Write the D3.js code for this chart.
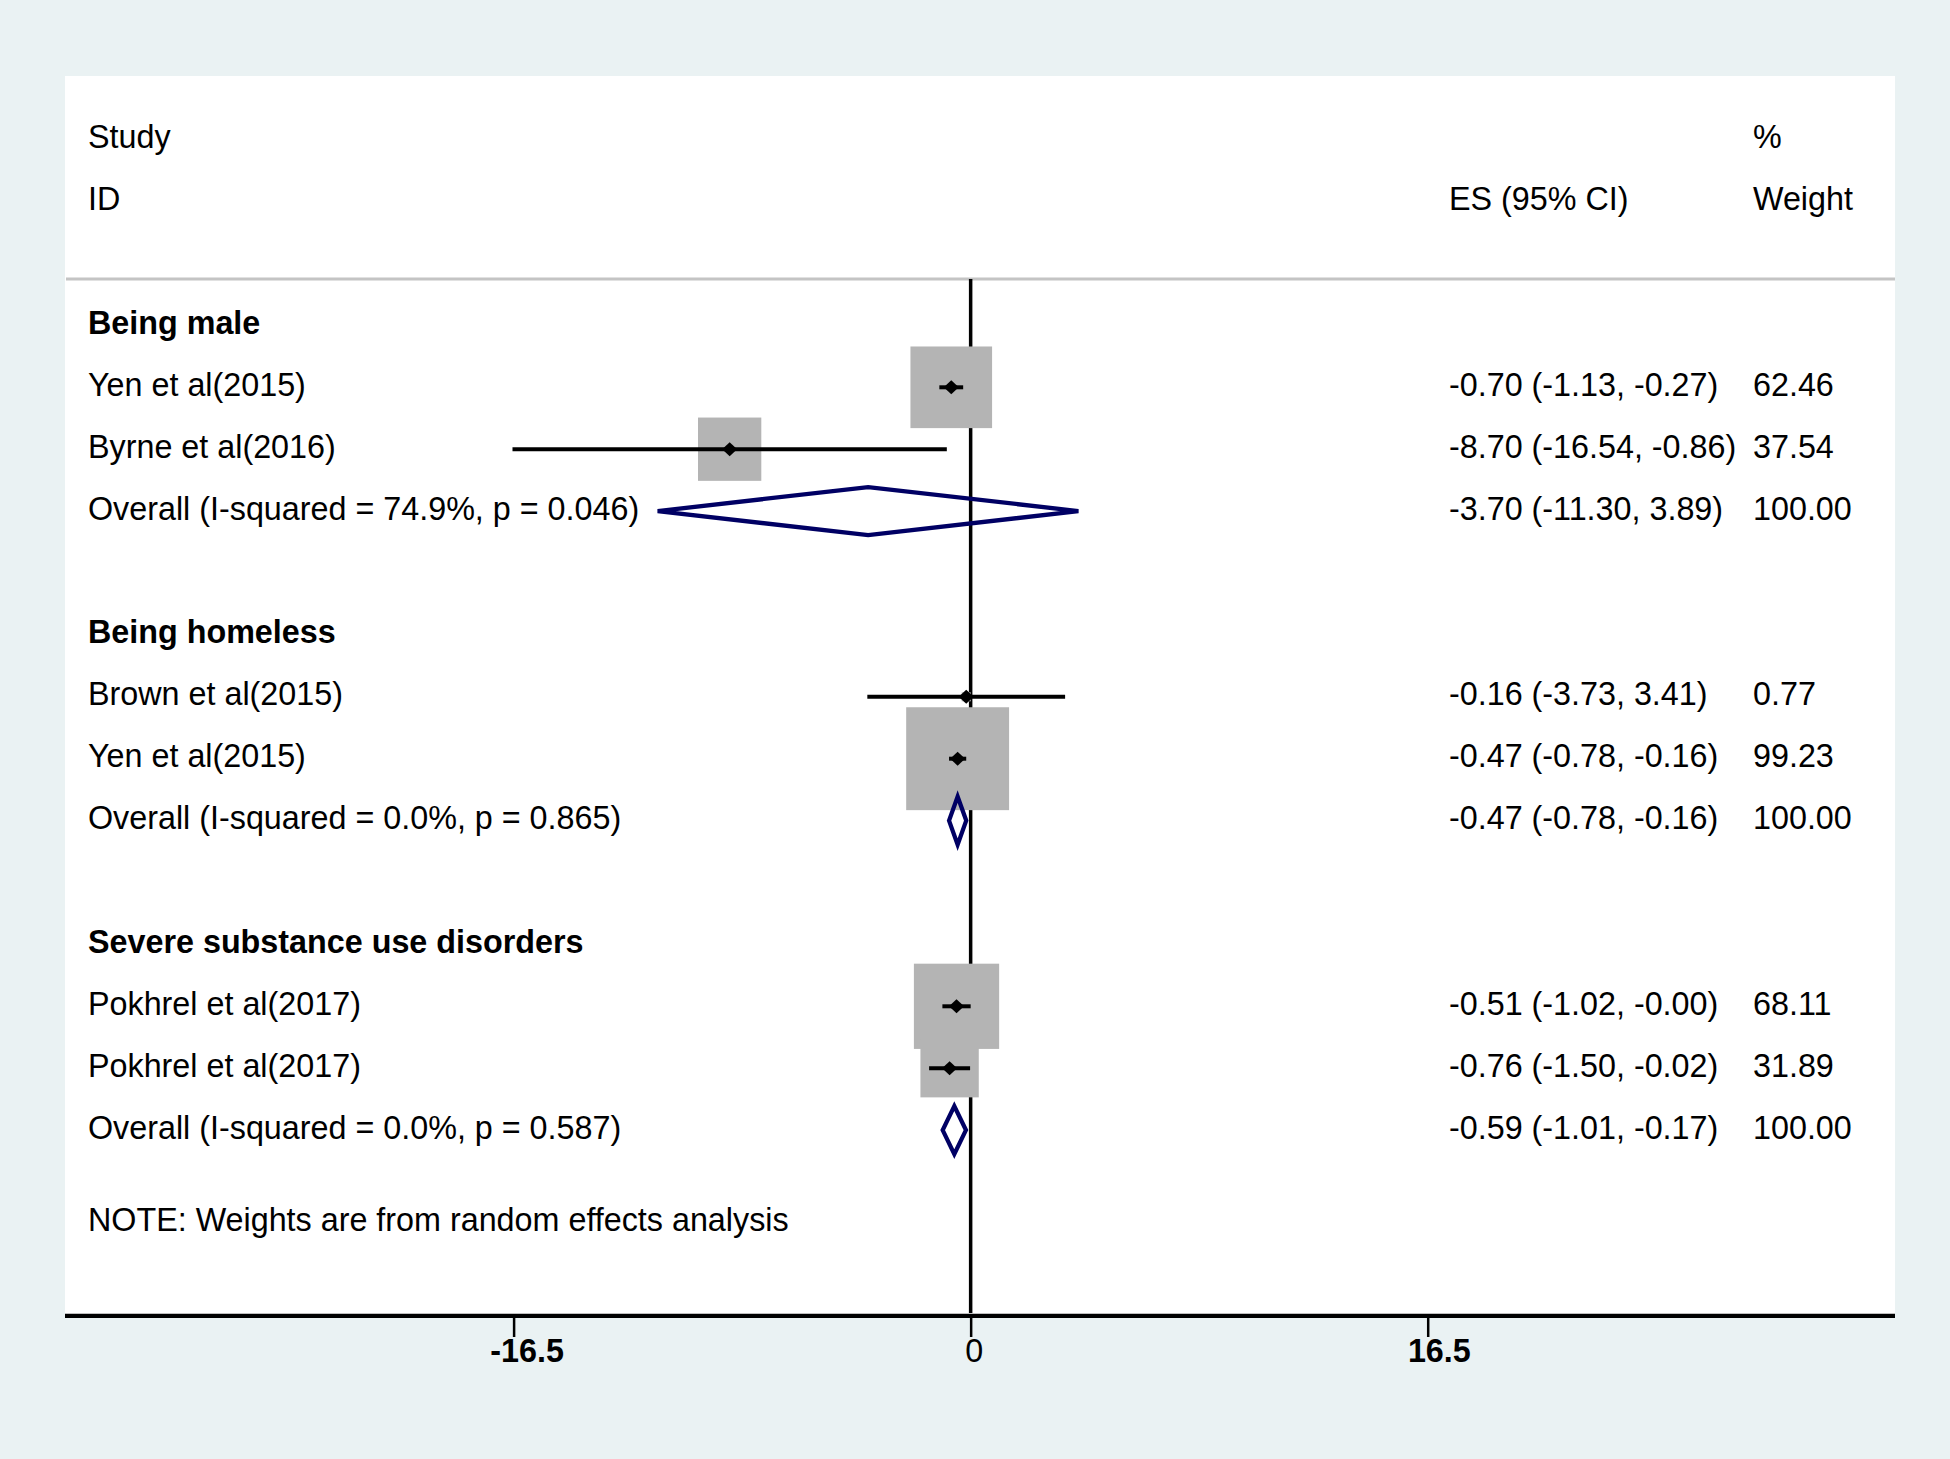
<!DOCTYPE html>
<html>
<head>
<meta charset="utf-8">
<script src="https://cdn.jsdelivr.net/npm/d3@7"></script>
<style>
  html, body { margin: 0; padding: 0; background: #EAF2F3; }
  svg { display: block; }
  text { font-family: "Liberation Sans", Arial, Helvetica, sans-serif; font-size: 32.3px; fill: #000; }
</style>
</head>
<body>
<svg id="chart" width="1950" height="1459"></svg>
<script>
// ---------------- data ----------------
const headerLeft = [
  { row: -3, text: "Study" },
  { row: -2, text: "ID" }
];
const headerES = [{ row: -2, text: "ES (95% CI)" }];
const headerWeight = [
  { row: -3, text: "%" },
  { row: -2, text: "Weight" }
];

const groupLabels = ["Being male", "Being homeless", "Severe substance use disorders"];
const groupRows = [0, 5, 10];

const studyLabels = ["Yen et al(2015)", "Byrne et al(2016)", "Brown et al(2015)", "Yen et al(2015)", "Pokhrel et al(2017)", "Pokhrel et al(2017)"];
const studyRows = [1, 2, 6, 7, 11, 12];
const studyES = [-0.70, -8.70, -0.16, -0.47, -0.51, -0.76];
const studyLo = [-1.13, -16.54, -3.73, -0.78, -1.02, -1.50];
const studyHi = [-0.27, -0.86, 3.41, -0.16, -0.00, -0.02];
const studyESText = ["-0.70 (-1.13, -0.27)", "-8.70 (-16.54, -0.86)", "-0.16 (-3.73, 3.41)", "-0.47 (-0.78, -0.16)", "-0.51 (-1.02, -0.00)", "-0.76 (-1.50, -0.02)"];
const studyWeight = [62.46, 37.54, 0.77, 99.23, 68.11, 31.89];
const studyWeightText = ["62.46", "37.54", "0.77", "99.23", "68.11", "31.89"];

const overallLabels = ["Overall (I-squared = 74.9%, p = 0.046)", "Overall (I-squared = 0.0%, p = 0.865)", "Overall (I-squared = 0.0%, p = 0.587)"];
const overallRows = [3, 8, 13];
const overallES = [-3.70, -0.47, -0.59];
const overallLo = [-11.30, -0.78, -1.01];
const overallHi = [3.89, -0.16, -0.17];
const overallESText = ["-3.70 (-11.30, 3.89)", "-0.47 (-0.78, -0.16)", "-0.59 (-1.01, -0.17)"];
const overallWeightText = ["100.00", "100.00", "100.00"];

const noteText = "NOTE: Weights are from random effects analysis";
const noteRow = 14.5;

const tickValues = [-16.5, 0, 16.5];
const tickLabels = ["-16.5", "0", "16.5"];
const tickBold = [true, false, true];

// ---------------- layout ----------------
const W = 1950, H = 1459;
const panel = { x0: 65, x1: 1895, y0: 76, y1: 1315 };
const colLeft = 88, colES = 1449, colWeight = 1753;

const svg = d3.select("#chart");

const x = d3.scaleLinear().domain([-16.5, 16.5]).range([513.6, 1427.7]);
const y = d3.scaleLinear().domain([0, 13]).range([325.4, 1130.1]);
const boxSide = d3.scaleSqrt().domain([0, 100]).range([0, 103.3]);
const textDy = 8.5;

// background
svg.append("rect").attr("x", 0).attr("y", 0).attr("width", W).attr("height", H).attr("fill", "#EAF2F3");
svg.append("rect").attr("x", panel.x0).attr("y", panel.y0)
  .attr("width", panel.x1 - panel.x0).attr("height", panel.y1 - panel.y0).attr("fill", "#FFFFFF");

// header separator
svg.append("line").attr("x1", 66).attr("x2", panel.x1).attr("y1", 279).attr("y2", 279)
  .attr("stroke", "#C4C4C4").attr("stroke-width", 3);

// zero line
svg.append("line").attr("x1", x(0)).attr("x2", x(0)).attr("y1", 279).attr("y2", panel.y1)
  .attr("stroke", "#000").attr("stroke-width", 3.5);

// study data
const studies = studyLabels.map((d, i) => ({
  label: d, row: studyRows[i], es: studyES[i], lo: studyLo[i], hi: studyHi[i],
  esText: studyESText[i], w: studyWeight[i], wText: studyWeightText[i]
}));
const overalls = overallLabels.map((d, i) => ({
  label: d, row: overallRows[i], es: overallES[i], lo: overallLo[i], hi: overallHi[i],
  esText: overallESText[i], wText: overallWeightText[i]
}));

// boxes
svg.append("g").selectAll("rect").data(studies).join("rect")
  .attr("x", d => x(d.es) - boxSide(d.w) / 2)
  .attr("y", d => y(d.row) - boxSide(d.w) / 2)
  .attr("width", d => boxSide(d.w))
  .attr("height", d => boxSide(d.w))
  .attr("fill", "#B4B4B4");

// CI lines
svg.append("g").selectAll("line").data(studies).join("line")
  .attr("x1", d => x(d.lo)).attr("x2", d => x(d.hi))
  .attr("y1", d => y(d.row)).attr("y2", d => y(d.row))
  .attr("stroke", "#000").attr("stroke-width", 4);

// point markers (small diamonds)
const mw = 7.5, mh = 7;
svg.append("g").selectAll("path").data(studies).join("path")
  .attr("d", d => {
    const cx = x(d.es), cy = y(d.row);
    return `M${cx - mw},${cy}L${cx},${cy - mh}L${cx + mw},${cy}L${cx},${cy + mh}Z`;
  })
  .attr("fill", "#000");

// overall diamonds
const dh = 24;
svg.append("g").selectAll("path").data(overalls).join("path")
  .attr("d", d => {
    const cy = y(d.row);
    return `M${x(d.lo)},${cy}L${x(d.es)},${cy - dh}L${x(d.hi)},${cy}L${x(d.es)},${cy + dh}Z`;
  })
  .attr("fill", "none").attr("stroke", "rgb(0,0,100)").attr("stroke-width", 4.3)
  .attr("stroke-linejoin", "miter");

// axis
svg.append("line").attr("x1", panel.x0).attr("x2", panel.x1).attr("y1", 1313.5).attr("y2", 1313.5)
  .attr("stroke", "#BEBEBE").attr("stroke-width", 1);
svg.append("line").attr("x1", panel.x0).attr("x2", panel.x1).attr("y1", 1316).attr("y2", 1316)
  .attr("stroke", "#000").attr("stroke-width", 4);

const axis = d3.axisBottom(x).tickValues(tickValues).tickSize(20).tickPadding(6)
  .tickFormat((d, i) => tickLabels[i]);
const gAxis = svg.append("g").attr("transform", "translate(0,1317)").call(axis);
gAxis.select(".domain").remove();
gAxis.selectAll(".tick line").attr("stroke", "#000").attr("stroke-width", 2.5);
gAxis.selectAll(".tick text")
  .attr("font-family", "Liberation Sans, Arial, sans-serif")
  .attr("font-size", 32.3)
  .attr("fill", "#000")
  .attr("font-weight", (d, i) => tickBold[i] ? "bold" : "normal")
  .attr("dy", null)
  .attr("y", 45)
  .attr("text-anchor", "start")
  .each(function () {
    const w = this.getComputedTextLength();
    d3.select(this).attr("x", -0.323 * w);
  });

// texts
function addText(data, xPos, weight) {
  svg.append("g").selectAll("text").data(data).join("text")
    .attr("x", xPos)
    .attr("y", d => y(d.row) + textDy)
    .attr("font-weight", weight)
    .text(d => d.text);
}
addText(headerLeft, colLeft, "normal");
addText(headerES, colES, "normal");
addText(headerWeight, colWeight, "normal");
addText(groupLabels.map((t, i) => ({ row: groupRows[i], text: t })), colLeft, "bold");
addText(studies.map(d => ({ row: d.row, text: d.label })), colLeft, "normal");
addText(studies.map(d => ({ row: d.row, text: d.esText })), colES, "normal");
addText(studies.map(d => ({ row: d.row, text: d.wText })), colWeight, "normal");
addText(overalls.map(d => ({ row: d.row, text: d.label })), colLeft, "normal");
addText(overalls.map(d => ({ row: d.row, text: d.esText })), colES, "normal");
addText(overalls.map(d => ({ row: d.row, text: d.wText })), colWeight, "normal");
addText([{ row: noteRow, text: noteText }], colLeft, "normal");
</script>
</body>
</html>
